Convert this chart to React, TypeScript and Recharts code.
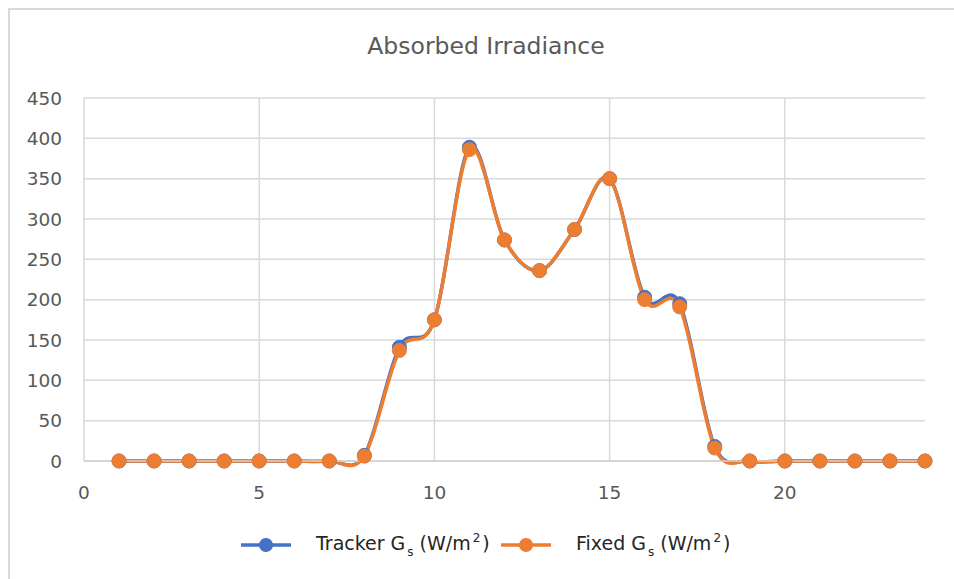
import React from 'react';
import { LineChart, Line, XAxis, YAxis, CartesianGrid } from 'recharts';

const hours = [1, 2, 3, 4, 5, 6, 7, 8, 9, 10, 11, 12, 13, 14, 15, 16, 17, 18, 19, 20, 21, 22, 23, 24];
const trackerGs = [0, 0, 0, 0, 0, 0, 0, 7, 141, 175, 389, 274, 236, 287, 350, 203, 195, 18, 0, 0, 0, 0, 0, 0];
const fixedGs = [0, 0, 0, 0, 0, 0, 0, 6, 137, 175, 386, 274, 236, 287, 350, 200, 191, 16, 0, 0, 0, 0, 0, 0];
const xTicks = [0, 5, 10, 15, 20];
const yTicks = [0, 50, 100, 150, 200, 250, 300, 350, 400, 450];

const chartTitle = 'Absorbed Irradiance';
const trackerLabel = 'Tracker G';
const fixedLabel = 'Fixed G';

const BLUE = '#4472C4';
const ORANGE = '#ED7D31';
const FONT = '"DejaVu Sans", sans-serif';

const data = hours.map((h, i) => ({ hour: h, tracker: trackerGs[i], fixed: fixedGs[i] }));

// Catmull-Rom style (cardinal, tension 0) curve, similar to Excel's smoothed line
function smoothCurve(context: any) {
  const k = 1 / 6;
  const s: any = {
    _x0: NaN, _x1: NaN, _x2: NaN, _y0: NaN, _y1: NaN, _y2: NaN, _point: 0, _line: NaN,
  };
  const bez = (x: number, y: number) => {
    context.bezierCurveTo(
      s._x1 + k * (s._x2 - s._x0),
      s._y1 + k * (s._y2 - s._y0),
      s._x2 + k * (s._x1 - x),
      s._y2 + k * (s._y1 - y),
      s._x2,
      s._y2
    );
  };
  return {
    areaStart() { s._line = 0; },
    areaEnd() { s._line = NaN; },
    lineStart() {
      s._x0 = s._x1 = s._x2 = s._y0 = s._y1 = s._y2 = NaN;
      s._point = 0;
    },
    lineEnd() {
      switch (s._point) {
        case 2: context.lineTo(s._x2, s._y2); break;
        case 3: bez(s._x1, s._y1); break;
      }
      if (s._line || (s._line !== 0 && s._point === 1)) context.closePath();
      s._line = 1 - s._line;
    },
    point(x: number, y: number) {
      x = +x; y = +y;
      switch (s._point) {
        case 0: s._point = 1; s._line ? context.lineTo(x, y) : context.moveTo(x, y); break;
        case 1: s._point = 2; s._x1 = x; s._y1 = y; break;
        case 2: s._point = 3; bez(x, y); break;
        default: bez(x, y); break;
      }
      s._x0 = s._x1; s._x1 = s._x2; s._x2 = x;
      s._y0 = s._y1; s._y1 = s._y2; s._y2 = y;
    },
  };
}

const LegendItem = ({ color, label, left }: { color: string; label: string; left: number }) => (
  <div style={{ position: 'absolute', left, top: 520, height: 30, display: 'flex', alignItems: 'center' }}>
    <svg width={52} height={20} style={{ display: 'block' }}>
      <line x1={1} y1={10} x2={51} y2={10} stroke={color} strokeWidth={3.5} />
      <circle cx={26} cy={10} r={7} fill={color} />
    </svg>
    <span style={{ marginLeft: 24, fontFamily: FONT, fontSize: 19, color: '#262626', whiteSpace: 'nowrap' }}>
      {label}
      <sub style={{ fontSize: 12, marginLeft: 2, marginRight: 6, verticalAlign: '-0.55em' }}>s</sub>(W/m
      <sup style={{ fontSize: 12, marginLeft: 2, marginRight: 2, verticalAlign: '0.65em' }}>2</sup>)
    </span>
  </div>
);

export default function App() {
  return (
    <div
      style={{
        position: 'fixed',
        left: 8,
        top: 8,
        width: 960,
        height: 590,
        boxSizing: 'border-box',
        borderTop: '2px solid #d9d9d9',
        borderLeft: '2px solid #d9d9d9',
        background: '#fff',
      }}
    >
      <div
        style={{
          position: 'absolute',
          left: 0,
          top: 22,
          width: 952,
          textAlign: 'center',
          fontFamily: FONT,
          fontSize: 23.5,
          color: '#595959',
        }}
      >
        {chartTitle}
      </div>
      <LineChart
        width={936}
        height={540}
        data={data}
        margin={{ top: 88, right: 21, left: 0, bottom: 49 }}
      >
        <CartesianGrid stroke="#d9d9d9" strokeWidth={1.5} verticalValues={xTicks} horizontalValues={yTicks} />
        <XAxis
          dataKey="hour"
          type="number"
          domain={[0, 24]}
          ticks={xTicks}
          interval={0}
          height={40}
          tickSize={0}
          tickMargin={25}
          axisLine={{ stroke: '#d0d0d0', strokeWidth: 1.5 }}
          tick={{ fill: '#595959', fontSize: 18.5, fontFamily: FONT }}
        />
        <YAxis
          type="number"
          domain={[0, 450]}
          ticks={yTicks}
          interval={0}
          width={74}
          tickSize={0}
          tickMargin={22}
          axisLine={false}
          tick={{ fill: '#595959', fontSize: 18.5, fontFamily: FONT }}
        />
        <Line
          dataKey="tracker"
          type={smoothCurve as any}
          stroke={BLUE}
          strokeWidth={3.5}
          dot={{ r: 7, fill: BLUE, stroke: BLUE, strokeWidth: 1 }}
          activeDot={false}
          isAnimationActive={false}
        />
        <Line
          dataKey="fixed"
          type={smoothCurve as any}
          stroke={ORANGE}
          strokeWidth={3.5}
          dot={{ r: 7, fill: ORANGE, stroke: ORANGE, strokeWidth: 1 }}
          activeDot={false}
          isAnimationActive={false}
        />
      </LineChart>
      <LegendItem color={BLUE} label={trackerLabel} left={230} />
      <LegendItem color={ORANGE} label={fixedLabel} left={490} />
    </div>
  );
}
